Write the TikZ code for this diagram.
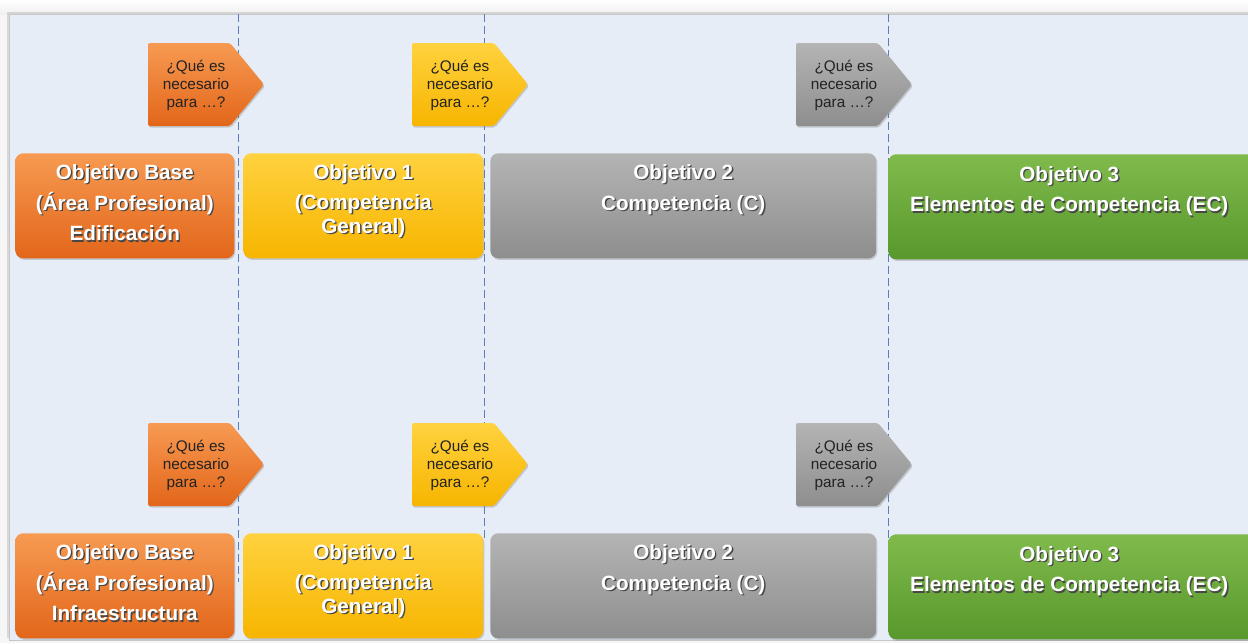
\documentclass[tikz,border=0pt]{standalone}
\usepackage{fontspec}
\setmainfont{Liberation Sans}
\usetikzlibrary{shadows}
\definecolor{panelblue}{HTML}{E6EDF7}
\definecolor{guideblue}{HTML}{5A7FB8}
\definecolor{orTop}{HTML}{F79A52}
\definecolor{orBot}{HTML}{E2661A}
\definecolor{yeTop}{HTML}{FFD23F}
\definecolor{yeBot}{HTML}{F7B500}
\definecolor{grTop}{HTML}{B4B4B4}
\definecolor{grBot}{HTML}{8E8E8E}
\definecolor{gnTop}{HTML}{80BA4C}
\definecolor{gnBot}{HTML}{58982C}
\definecolor{asktext}{HTML}{222222}
% white heading text with a dark offset copy underneath
\newcommand\shtxt[1]{\leavevmode\rlap{\hspace{1pt}\raisebox{-1pt}{\textcolor{black!72}{#1}}}#1}
\tikzset{
  objbox/.style={draw=none, rounded corners=6pt, anchor=north west,
    minimum height=78.75pt, inner sep=0pt,
    drop shadow={opacity=0.35, shadow xshift=0.8pt, shadow yshift=-1.2pt}},
  orangebox/.style={objbox, top color=orTop, bottom color=orBot},
  yellowbox/.style={objbox, top color=yeTop, bottom color=yeBot},
  graybox/.style={objbox, top color=grTop, bottom color=grBot},
  greenbox/.style={objbox, top color=gnTop, bottom color=gnBot},
  objtext/.style={anchor=north, align=center, inner sep=0pt, text=white,
    font=\fontsize{15.5}{18}\selectfont\bfseries},
  askshape/.style={rounded corners=1.5pt,
    drop shadow={opacity=0.35, shadow xshift=0.8pt, shadow yshift=-1.2pt}},
  asktext/.style={align=center, inner sep=0pt, text=asktext,
    font=\fontsize{11.5}{13.5}\selectfont},
  guide/.style={draw=guideblue, line width=0.7pt, dash pattern=on 6pt off 3pt}
}
\begin{document}
\begin{tikzpicture}[x=0.75pt, y=-0.75pt]
\useasboundingbox (0,0) rectangle (1248,643);
% page backdrop and panel
\fill[gray!7] (0,0) rectangle (1248,643);
\shade[top color=white, bottom color=gray!12] (0,0) rectangle (1248,14);
\fill[panelblue, drop shadow={opacity=0.25, shadow xshift=-1.5pt, shadow yshift=1.5pt}]
  (9,14) rectangle (1260,640);
\draw[gray!45, line width=0.6pt] (9,640) -- (9,14) -- (1260,14);
\draw[gray!45, line width=0.6pt] (9,640) -- (1260,640);

% column guides
\draw[guide] (238,14) -- (238,582);
\draw[guide] (484,14) -- (484,538);
\draw[guide] (888,14) -- (888,570);

% two rows of objectives, 380 px apart
\foreach \r/\dy/\area in {a/0/Edificación, b/380/Infraestructura} {
  % question arrows
  \foreach \c/\L/\ta/\tb in {1/148/orTop/orBot, 2/412/yeTop/yeBot, 3/796/grTop/grBot} {
    \path[askshape, top color=\ta, bottom color=\tb]
      (\L,43+\dy) -- (\L+82,43+\dy) -- (\L+116,84.5+\dy) -- (\L+82,126+\dy)
      -- (\L,126+\dy) -- cycle;
    \node[asktext] (ask\r\c) at (\L+48,85.5+\dy) {¿Qué es\\necesario\\para …?};
  }
  % objective boxes
  \node[orangebox, minimum width=164.25pt] (base\r) at (15,153+\dy) {};
  \node[yellowbox, minimum width=180pt] (obj\r1) at (243,153+\dy) {};
  \node[graybox, minimum width=289.5pt] (obj\r2) at (490,153+\dy) {};
  \node[greenbox, minimum width=277.5pt] (obj\r3) at (888,154+\dy) {};
  \node[objtext] (tbase\r) at ([yshift=-8.5pt]base\r.north)
    {\shtxt{Objetivo Base}\\[5pt]\shtxt{(Área Profesional)}\\[5pt]\shtxt{\area}};
  \node[objtext] (t\r1) at ([yshift=-8.5pt]obj\r1.north)
    {\shtxt{Objetivo 1}\\[4.5pt]\shtxt{(Competencia}\\\shtxt{General)}};
  \node[objtext] (t\r2) at ([yshift=-8.5pt]obj\r2.north)
    {\shtxt{Objetivo 2}\\[5pt]\shtxt{Competencia (C)}};
  \node[objtext] (t\r3) at ([xshift=-3pt,yshift=-9pt]obj\r3.north)
    {\shtxt{Objetivo 3}\\[5pt]\shtxt{Elementos de Competencia (EC)}};
}
\end{tikzpicture}
\end{document}
